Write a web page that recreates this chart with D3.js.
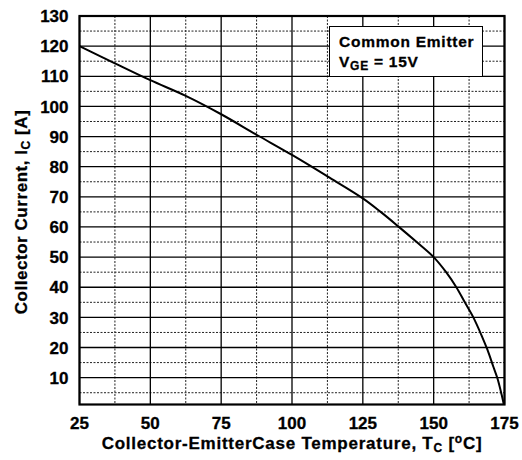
<!DOCTYPE html>
<html>
<head>
<meta charset="utf-8">
<script src="https://cdn.jsdelivr.net/npm/d3@7"></script>
<style>
    body { margin: 0; background: #fff; }
    text { font-family: Arial, "Liberation Sans", sans-serif; font-weight: bold; fill: #000; stroke: #000; stroke-width: 0.3px; }
</style>
</head>
<body>
<svg id="chart" width="522" height="460"></svg>
<script>
// Collector current vs case temperature
const temps = [25, 37.5, 50, 62.5, 75, 87.5, 100, 112.5, 125, 131.3, 137.5, 144, 150, 154.4, 158, 161, 164, 167, 169, 171, 172.5, 174, 175];
const current = [120, 114.3, 108.7, 103.5, 97.4, 90.6, 83.9, 76.8, 69.5, 65, 60.2, 55, 50, 45, 40, 35, 30, 23.8, 19.2, 13.8, 9.8, 4.3, 0];

const xTicks = [25, 50, 75, 100, 125, 150, 175];
const xMinor = [37.5, 62.5, 87.5, 112.5, 137.5, 162.5];
const yTicks = [10, 20, 30, 40, 50, 60, 70, 80, 90, 100, 110, 120, 130];
const yMinor = [5, 15, 25, 35, 45, 55, 65, 75, 85, 95, 105, 115, 125];

// plot frame edges
const plotLeft = 79.5, plotRight = 504.5, plotTop = 16, plotBottom = 404.5;

const svg = d3.select("#chart");

const x = d3.scaleLinear().domain([25, 175]).range([plotLeft, plotRight]);
const y = d3.scaleLinear().domain([0, 130]).range([407.8, plotTop]);

svg.append("defs").append("clipPath").attr("id", "plot-clip")
    .append("rect")
    .attr("x", plotLeft).attr("y", plotTop)
    .attr("width", plotRight - plotLeft).attr("height", plotBottom - plotTop);

const grid = svg.append("g");

// dotted minor grid
grid.selectAll(".xminor").data(xMinor).enter().append("line")
    .attr("x1", d => x(d)).attr("x2", d => x(d))
    .attr("y1", plotTop).attr("y2", plotBottom)
    .attr("stroke", "#222").attr("stroke-width", 1)
    .attr("stroke-dasharray", "2,1.5");

grid.selectAll(".yminor").data(yMinor).enter().append("line")
    .attr("x1", plotLeft).attr("x2", plotRight)
    .attr("y1", d => y(d)).attr("y2", d => y(d))
    .attr("stroke", "#222").attr("stroke-width", 1)
    .attr("stroke-dasharray", "2,1.5");

// solid major grid
grid.selectAll(".xmajor").data(xTicks).enter().append("line")
    .attr("x1", d => x(d)).attr("x2", d => x(d))
    .attr("y1", plotTop).attr("y2", plotBottom)
    .attr("stroke", "#000").attr("stroke-width", 1.3);

grid.selectAll(".ymajor").data(yTicks).enter().append("line")
    .attr("x1", plotLeft).attr("x2", plotRight)
    .attr("y1", d => y(d)).attr("y2", d => y(d))
    .attr("stroke", "#000").attr("stroke-width", 1.3);

// curve
const points = temps.map((t, i) => [t, current[i]]);
const line = d3.line()
    .x(d => x(d[0]))
    .y(d => y(d[1]))
    .curve(d3.curveCatmullRom);

svg.append("path")
    .datum(points)
    .attr("clip-path", "url(#plot-clip)")
    .attr("d", line)
    .attr("fill", "none")
    .attr("stroke", "#000")
    .attr("stroke-width", 2);

// frame
svg.append("rect")
    .attr("x", plotLeft).attr("y", plotTop)
    .attr("width", plotRight - plotLeft).attr("height", plotBottom - plotTop)
    .attr("fill", "none")
    .attr("stroke", "#000")
    .attr("stroke-width", 2.2);

// tick labels
svg.append("g").selectAll("text").data(yTicks).enter().append("text")
    .attr("x", 68.5)
    .attr("y", d => y(d))
    .attr("dy", "0.36em")
    .attr("text-anchor", "end")
    .style("font-size", "17px")
    .text(d => d);

svg.append("g").selectAll("text").data(xTicks).enter().append("text")
    .attr("x", d => x(d))
    .attr("y", 428.5)
    .attr("text-anchor", "middle")
    .style("font-size", "17px")
    .text(d => d);

// axis titles
const xTitle = svg.append("text")
    .attr("x", (plotLeft + plotRight) / 2)
    .attr("y", 449)
    .attr("text-anchor", "middle")
    .style("font-size", "17px")
    .style("letter-spacing", "0.75px");
xTitle.append("tspan").text("Collector-EmitterCase Temperature, T");
xTitle.append("tspan").attr("dy", 3).style("font-size", "12px").text("C");
xTitle.append("tspan").attr("dy", -3).text(" [");
xTitle.append("tspan").attr("dy", -6).style("font-size", "12px").text("o");
xTitle.append("tspan").attr("dy", 6).text("C]");

const yTitle = svg.append("text")
    .attr("transform", "translate(27,212) rotate(-90)")
    .attr("text-anchor", "middle")
    .style("font-size", "17px")
    .style("letter-spacing", "0.55px");
yTitle.append("tspan").text("Collector Current, I");
yTitle.append("tspan").attr("dy", 3).style("font-size", "12px").text("C");
yTitle.append("tspan").attr("dy", -3).text(" [A]");

// legend box
svg.append("rect")
    .attr("x", 329.5).attr("y", 26.5)
    .attr("width", 153).attr("height", 50)
    .attr("fill", "#fff")
    .attr("stroke", "#000")
    .attr("stroke-width", 1);

svg.append("text")
    .attr("x", 339).attr("y", 46.5)
    .style("font-size", "15.5px")
    .style("letter-spacing", "0.75px")
    .text("Common Emitter");

const vge = svg.append("text")
    .attr("x", 339).attr("y", 67)
    .style("font-size", "15.5px")
    .style("letter-spacing", "0.75px");
vge.append("tspan").text("V");
vge.append("tspan").attr("dy", 3).style("font-size", "12px").text("GE");
vge.append("tspan").attr("dy", -3).text(" = 15V");
</script>
</body>
</html>
